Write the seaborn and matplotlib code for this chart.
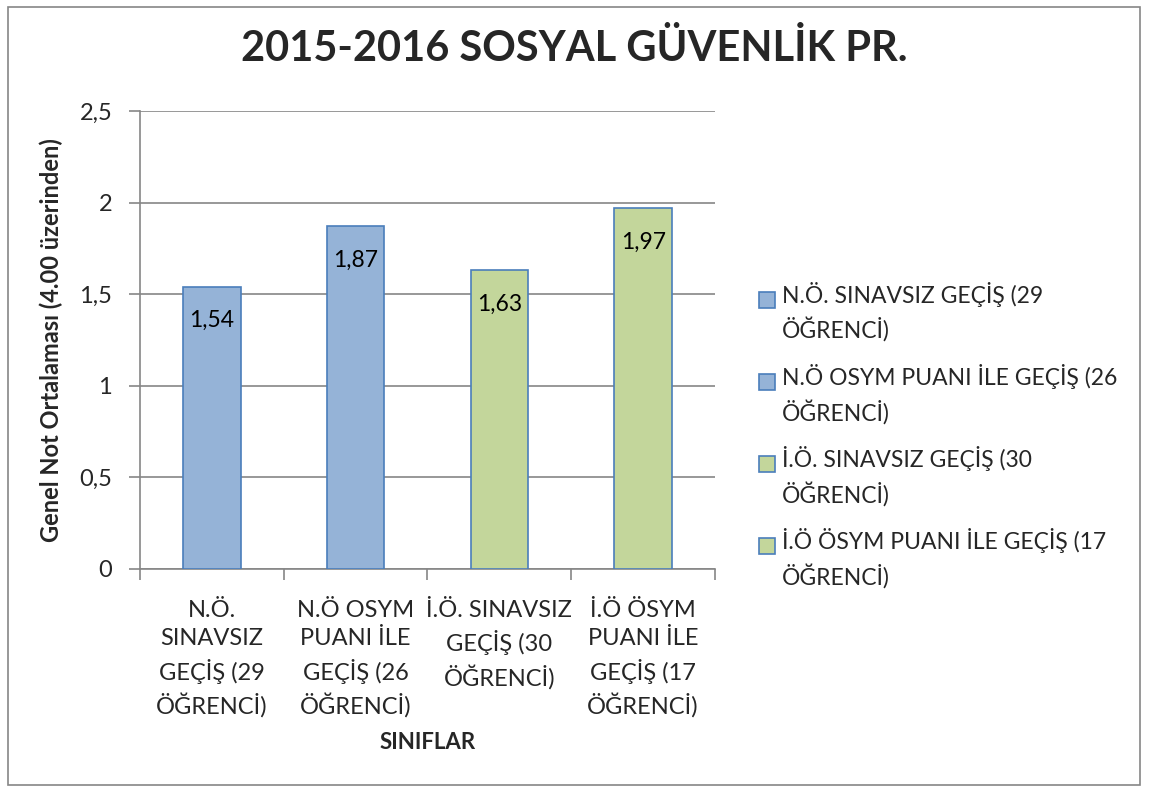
import matplotlib
matplotlib.use('Agg')
import matplotlib.pyplot as plt
import pandas as pd
import seaborn as sns
from matplotlib.patches import Rectangle
from matplotlib.ticker import FixedLocator
from matplotlib.legend_handler import HandlerPatch

# data
categories = ['N.Ö.\nSINAVSIZ\nGEÇİŞ (29\nÖĞRENCİ)',
              'N.Ö OSYM\nPUANI İLE\nGEÇİŞ (26\nÖĞRENCİ)',
              'İ.Ö. SINAVSIZ\nGEÇİŞ (30\nÖĞRENCİ)',
              'İ.Ö ÖSYM\nPUANI İLE\nGEÇİŞ (17\nÖĞRENCİ)']
legend_labels = ['N.Ö. SINAVSIZ GEÇİŞ (29\nÖĞRENCİ)',
                 'N.Ö OSYM PUANI İLE GEÇİŞ (26\nÖĞRENCİ)',
                 'İ.Ö. SINAVSIZ GEÇİŞ (30\nÖĞRENCİ)',
                 'İ.Ö ÖSYM PUANI İLE GEÇİŞ (17\nÖĞRENCİ)']
values = [1.54, 1.87, 1.63, 1.97]
bar_colors = ['#95B3D7', '#95B3D7', '#C3D69B', '#C3D69B']
y_ticks = [0, 0.5, 1, 1.5, 2, 2.5]
y_tick_labels = ['0', '0,5', '1', '1,5', '2', '2,5']

sns.set_style('white')
plt.rcParams['font.family'] = ['Lato', 'DejaVu Sans']

data = pd.DataFrame({'Sinif': categories, 'Grup': legend_labels, 'Ortalama': values})

figure = plt.figure(figsize=(11.49, 7.91), dpi=100)
axis = figure.add_axes([0.1218, 0.2807, 0.5005, 0.579])

sns.barplot(data=data, x='Sinif', y='Ortalama', hue='Grup', order=categories,
            hue_order=legend_labels, palette=bar_colors, width=0.4, saturation=1,
            edgecolor='#4A7EBB', linewidth=1.2, ax=axis, zorder=3)

for container in axis.containers:
    axis.bar_label(container, labels=[f'{v:.2f}'.replace('.', ',') for v in container.datavalues],
                   padding=-32, fontsize=16.5, color='black')

axis.set_ylim(0, 2.5)
axis.set_xlim(-0.5, 3.5)
axis.set_yticks(y_ticks)
axis.set_yticklabels(y_tick_labels, fontsize=17)
axis.yaxis.grid(True, color='#868686', linewidth=1.2, zorder=0)
axis.tick_params(axis='y', length=8, width=1.2, color='#868686', pad=12, direction='out', left=True)
axis.tick_params(axis='x', which='major', length=0, labelsize=17, pad=22)
for label in axis.get_xticklabels():
    label.set_linespacing(1.45)
axis.xaxis.set_minor_locator(FixedLocator([-0.5, 0.5, 1.5, 2.5, 3.5]))
axis.tick_params(axis='x', which='minor', length=8, width=1.2, color='#868686', direction='out', bottom=True)

for side in ['top', 'right']:
    axis.spines[side].set_visible(False)
for side in ['left', 'bottom']:
    axis.spines[side].set_color('#868686')
    axis.spines[side].set_linewidth(1.2)

axis.set_xlabel('SINIFLAR', fontsize=16, fontweight='bold', labelpad=10)
axis.set_ylabel('Genel Not Ortalaması (4.00 üzerinden)', fontsize=17, fontweight='bold', labelpad=12)


def top_aligned_box(legend, orig_handle, xdescent, ydescent, width, height, fontsize):
    # put the colour square next to the first line of a two-line label
    return Rectangle((-xdescent, -ydescent + 0.55 * fontsize), width, height)


handles, labels = axis.get_legend_handles_labels()
legend = axis.legend(handles, labels, loc='center left', bbox_to_anchor=(0.643, 0.45),
                     bbox_transform=figure.transFigure, frameon=False, fontsize=16.5,
                     handlelength=0.7, handleheight=0.7, handletextpad=0.3, labelspacing=0.95,
                     alignment='left',
                     handler_map={h: HandlerPatch(patch_func=top_aligned_box) for h in handles})
for text in legend.get_texts():
    text.set_linespacing(1.5)

figure.suptitle('2015-2016 SOSYAL GÜVENLİK PR.', x=0.5, y=0.939, va='center',
                fontsize=30, fontweight='bold')

figure.add_artist(Rectangle((0.007, 0.008), 0.985, 0.983, transform=figure.transFigure,
                            fill=False, edgecolor='#868686', linewidth=1.2))

figure.savefig('out.png', dpi=100)
